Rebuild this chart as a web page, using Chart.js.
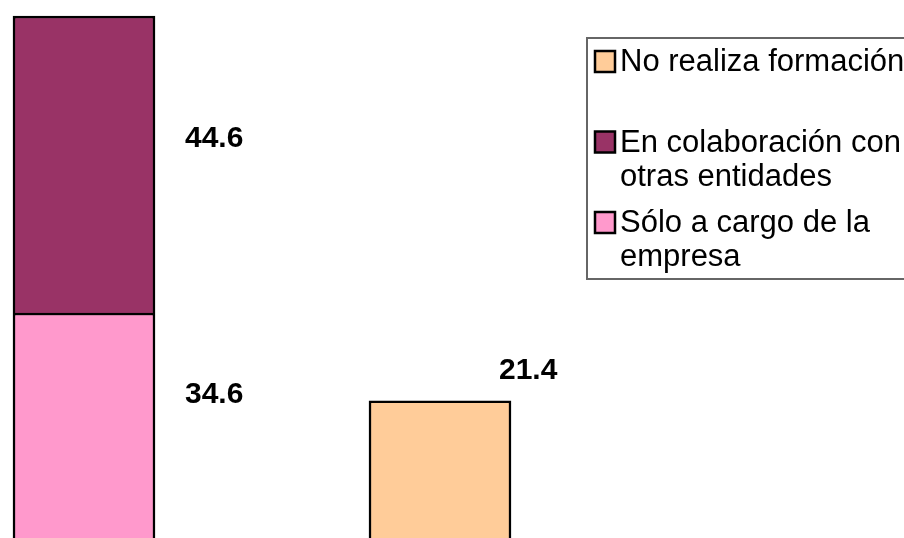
<!DOCTYPE html>
<html>
<head>
<meta charset="utf-8">
<script src="https://cdn.jsdelivr.net/npm/chart.js@4.4.0/dist/chart.umd.min.js"></script>
<style>
  html, body { margin: 0; padding: 0; background: #fff; }
  #wrap { width: 904px; height: 538px; position: relative; overflow: hidden; }
</style>
</head>
<body>
<div id="wrap"><canvas id="chart" width="904" height="538"></canvas></div>
<script>
// === Data ===
const categories = ["Realiza formación", "No realiza formación"];
const soloEmpresa = [34.6, null];
const colaboracion = [44.6, null];
const noRealiza = [null, 21.4];

const FONT = '"Liberation Sans", Arial, sans-serif';

// label offsets per dataset, relative to the bar's top-centre
const labelOffsets = [
  { dx: 101, dy: 90 },
  { dx: 101, dy: 131 },
  { dx: 59, dy: -22 }
];

const valueLabels = {
  id: "valueLabels",
  afterDatasetsDraw(chart) {
    const ctx = chart.ctx;
    ctx.save();
    ctx.font = "bold 30px " + FONT;
    ctx.fillStyle = "#000";
    ctx.textAlign = "left";
    ctx.textBaseline = "alphabetic";
    chart.data.datasets.forEach((ds, i) => {
      chart.getDatasetMeta(i).data.forEach((bar, j) => {
        const v = ds.data[j];
        if (v == null) return;
        const o = labelOffsets[i];
        ctx.fillText(v.toFixed(1), bar.x + o.dx, bar.y + o.dy);
      });
    });
    ctx.restore();
  }
};

// legend drawn in a box at the right, items in reverse order, text wrapped
const boxLegend = {
  id: "boxLegend",
  afterDraw(chart) {
    const ctx = chart.ctx;
    ctx.save();
    ctx.strokeStyle = "#666";
    ctx.lineWidth = 2;
    ctx.strokeRect(587, 38, 340, 241);

    ctx.font = "31px " + FONT;
    ctx.textBaseline = "alphabetic";
    const maxW = 290;
    const items = chart.data.datasets.slice().reverse();
    items.forEach((ds, k) => {
      const base = 71 + k * 80.5;
      ctx.fillStyle = ds.backgroundColor;
      ctx.fillRect(595, base - 20, 20, 21);
      ctx.strokeStyle = "#000";
      ctx.lineWidth = 2.5;
      ctx.strokeRect(595, base - 20, 20, 21);

      // simple word wrap
      const words = ds.label.split(" ");
      const lines = [];
      let line = "";
      words.forEach(w => {
        const test = line ? line + " " + w : w;
        if (ctx.measureText(test).width > maxW && line) {
          lines.push(line);
          line = w;
        } else {
          line = test;
        }
      });
      lines.push(line);
      ctx.fillStyle = "#000";
      lines.forEach((t, n) => ctx.fillText(t, 620, base + n * 34));
    });
    ctx.restore();
  }
};

const ctx = document.getElementById("chart").getContext("2d");
new Chart(ctx, {
  type: "bar",
  data: {
    labels: categories,
    datasets: [
      { label: "Sólo a cargo de la empresa", data: soloEmpresa, backgroundColor: "#FF99CC" },
      { label: "En colaboración con otras entidades", data: colaboracion, backgroundColor: "#993366" },
      { label: "No realiza formación", data: noRealiza, backgroundColor: "#FFCC99" }
    ].map(d => Object.assign(d, { borderColor: "#000", borderWidth: 2.5, barThickness: 142, clip: false }))
  },
  options: {
    responsive: false,
    animation: false,
    layout: { padding: { left: 84, right: 464, top: 0, bottom: 0 } },
    plugins: { legend: { display: false }, tooltip: { enabled: false } },
    scales: {
      x: { type: "category", stacked: true, offset: false, display: false },
      y: { stacked: true, display: false, min: 0.81, max: 81.6 }
    }
  },
  plugins: [valueLabels, boxLegend]
});
</script>
</body>
</html>
